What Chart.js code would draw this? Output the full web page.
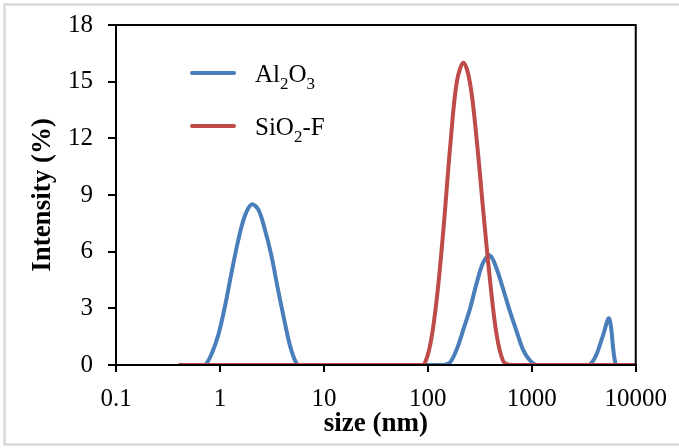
<!DOCTYPE html>
<html>
<head>
<meta charset="utf-8">
<script src="https://cdn.jsdelivr.net/npm/chart.js@4/dist/chart.umd.min.js"></script>
<style>
  html, body { margin: 0; padding: 0; background: #fff; }
  canvas { display: block; }
</style>
</head>
<body>
<canvas id="dlsChart" width="679" height="448"></canvas>
<script>
// Datos (tamaño en nm, intensidad en %)
const sizes = [0.4, 0.4632, 0.5365, 0.6213, 0.7195, 0.8332, 0.9649, 1.117, 1.294, 1.499,
    1.736, 2.01, 2.328, 2.696, 3.122, 3.615, 4.187, 4.849, 5.615, 6.503,
    7.531, 8.721, 10.1, 11.7, 13.54, 15.69, 18.17, 21.04, 24.36, 28.21,
    32.67, 37.84, 43.82, 50.75, 58.77, 68.06, 78.82, 91.28, 105.7, 122.4,
    141.8, 164.2, 190.1, 220.2, 255, 295.3, 342, 396.1, 458.7, 531.2,
    615.1, 712.4, 825, 955.4, 1106, 1281, 1484, 1718, 1990, 2305,
    2669, 3091, 3580, 4145, 4801, 5560, 6439, 7456, 8635, 10000];

const al2o3 = [0, 0, 0, 0, 0, 0.6, 1.6, 3.1, 4.9, 6.6,
    7.9, 8.5, 8.25, 7.2, 5.8, 4.0, 2.3, 0.8, 0, 0,
    0, 0, 0, 0, 0, 0, 0, 0, 0, 0,
    0, 0, 0, 0, 0, 0, 0, 0, 0, 0,
    0, 0.15, 0.85, 1.9, 3.0, 4.35, 5.45, 5.8, 5.1, 4.0,
    2.85, 1.8, 0.8, 0.25, 0, 0, 0, 0, 0, 0,
    0, 0, 0, 0.5, 1.5, 2.45, 0, 0, 0, 0];

const sio2f = [0, 0, 0, 0, 0, 0, 0, 0, 0, 0,
    0, 0, 0, 0, 0, 0, 0, 0, 0, 0,
    0, 0, 0, 0, 0, 0, 0, 0, 0, 0,
    0, 0, 0, 0, 0, 0, 0, 0, 1.1, 3.6,
    7.3, 11.6, 15.0, 16.0, 14.9, 11.9, 8.1, 4.5, 1.6, 0.2,
    0, 0, 0, 0, 0, 0, 0, 0, 0, 0,
    0, 0, 0, 0, 0, 0, 0, 0, 0, 0];

const xTicks = [0.1, 1, 10, 100, 1000, 10000];
const yTicks = [0, 3, 6, 9, 12, 15, 18];

const blue = '#4a7ebb';
const red = '#be4b48';
const serif = 'Liberation Serif';

const toPoints = ys => sizes.map((s, i) => ({ x: s, y: ys[i] }));

// Marco gris, caja del área y leyenda con subíndices
const decor = {
    id: 'decor',
    beforeDraw(chart) {
        const ctx = chart.ctx;
        ctx.save();
        ctx.fillStyle = '#fff';
        ctx.fillRect(0, 0, chart.width, chart.height);
        ctx.strokeStyle = '#d9d9d9';
        ctx.lineWidth = 2.5;
        ctx.strokeRect(4.5, 4.5, 720, 440);
        ctx.restore();
    },
    afterDraw(chart) {
        const ctx = chart.ctx;
        const a = chart.chartArea;
        ctx.save();
        ctx.strokeStyle = '#000';
        ctx.lineWidth = 2;
        ctx.strokeRect(a.left, a.top, a.right - a.left, a.bottom - a.top);

        const rows = [
            { color: blue, y: 73, parts: [['Al', 0], ['2', 1], ['O', 0], ['3', 1]] },
            { color: red, y: 126, parts: [['SiO', 0], ['2', 1], ['-F', 0]] }
        ];
        rows.forEach(r => {
            ctx.strokeStyle = r.color;
            ctx.lineWidth = 4;
            ctx.lineCap = 'round';
            ctx.beginPath();
            ctx.moveTo(192, r.y);
            ctx.lineTo(234, r.y);
            ctx.stroke();
            let x = 255;
            ctx.fillStyle = '#000';
            ctx.textBaseline = 'alphabetic';
            r.parts.forEach(([t, sub]) => {
                ctx.font = (sub ? '17px ' : '25px ') + serif;
                ctx.fillText(t, x, r.y + 9 + (sub ? 7 : 0));
                x += ctx.measureText(t).width;
            });
        });
        ctx.restore();
    }
};

const config = {
    type: 'line',
    data: {
        datasets: [{
            label: 'Al2O3',
            data: toPoints(al2o3),
            borderColor: blue,
            borderWidth: 4,
            pointRadius: 0,
            tension: 0.35,
            order: 2
        }, {
            label: 'SiO2-F',
            data: toPoints(sio2f),
            borderColor: red,
            borderWidth: 4,
            pointRadius: 0,
            tension: 0.35,
            order: 1
        }]
    },
    options: {
        responsive: false,
        animation: false,
        layout: { padding: { top: 25, right: 43, left: 0, bottom: 0 } },
        plugins: {
            legend: { display: false },
            tooltip: { enabled: false }
        },
        scales: {
            x: {
                type: 'logarithmic',
                min: 0.1,
                max: 10000,
                afterBuildTicks: s => { s.ticks = xTicks.map(v => ({ value: v })); },
                afterFit: s => { s.height = 83; },
                ticks: {
                    callback: v => String(v),
                    autoSkip: false,
                    maxRotation: 0,
                    color: '#000',
                    padding: 12,
                    font: { family: serif, size: 25 }
                },
                grid: { drawOnChartArea: false, color: '#000', lineWidth: 2, tickLength: 7 },
                border: { color: '#000', width: 2 },
                title: {
                    display: true,
                    text: 'size (nm)',
                    color: '#000',
                    padding: { top: 0, bottom: 8 },
                    font: { family: serif, size: 27, weight: 'bold' }
                }
            },
            y: {
                min: 0,
                max: 18,
                afterBuildTicks: s => { s.ticks = yTicks.map(v => ({ value: v })); },
                afterFit: s => { s.width = 116; s.paddingTop = 0; s.paddingBottom = 0; },
                ticks: {
                    color: '#000',
                    padding: 15,
                    font: { family: serif, size: 25 }
                },
                grid: { drawOnChartArea: false, color: '#000', lineWidth: 2, tickLength: 8 },
                border: { color: '#000', width: 2 },
                title: {
                    display: true,
                    text: 'Intensity (%)',
                    color: '#000',
                    padding: { top: 27, bottom: 0 },
                    font: { family: serif, size: 27, weight: 'bold' }
                }
            }
        }
    },
    plugins: [decor]
};

const dlsChart = new Chart(document.getElementById('dlsChart'), config);
</script>
</body>
</html>
